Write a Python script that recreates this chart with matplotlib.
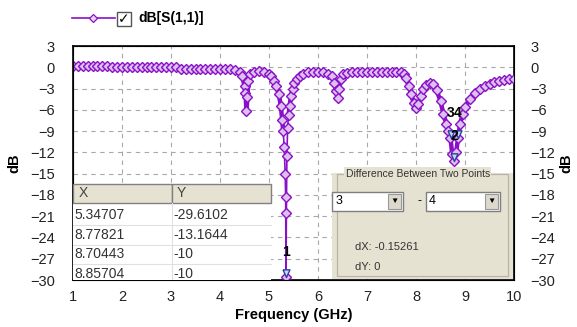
import numpy as np
import matplotlib.pyplot as plt
from matplotlib.patches import Rectangle
from matplotlib.lines import Line2D

plt.rcParams['font.family'] = ['Liberation Sans', 'DejaVu Sans']

# S11 trace
freq = [1.0, 1.1, 1.2, 1.3, 1.4, 1.5, 1.6, 1.7, 1.8, 1.9, 2.0, 2.1, 2.2, 2.3, 2.4,
        2.5, 2.6, 2.7, 2.8, 2.9, 3.0, 3.1, 3.2, 3.3, 3.4, 3.5, 3.6, 3.7, 3.8, 3.9,
        4.0, 4.1, 4.2, 4.3, 4.4, 4.45, 4.5, 4.52, 4.54, 4.56, 4.58, 4.62, 4.7, 4.8,
        4.9, 5.0, 5.05, 5.1, 5.15, 5.2, 5.24, 5.27, 5.29, 5.31, 5.33, 5.34, 5.347,
        5.355, 5.365, 5.38, 5.4, 5.42, 5.45, 5.48, 5.52, 5.57, 5.63, 5.7, 5.8, 5.9,
        6.0, 6.1, 6.2, 6.28, 6.33, 6.37, 6.4, 6.43, 6.47, 6.52, 6.6, 6.7, 6.8, 6.9,
        7.0, 7.1, 7.2, 7.3, 7.4, 7.5, 7.6, 7.7, 7.75, 7.8, 7.85, 7.9, 7.95, 8.0,
        8.05, 8.1, 8.15, 8.2, 8.28, 8.35, 8.42, 8.5, 8.56, 8.62, 8.66, 8.704, 8.74,
        8.778, 8.82, 8.857, 8.9, 8.95, 9.0, 9.1, 9.2, 9.3, 9.4, 9.5, 9.6, 9.7, 9.8,
        9.9, 10.0]
s11 = [0.2, 0.2, 0.2, 0.2, 0.2, 0.2, 0.2, 0.2, 0.1, 0.0, 0.0, 0.0, 0.0, 0.0, 0.0,
       0.0, 0.0, 0.0, 0.0, 0.0, 0.0, 0.0, -0.2, -0.2, -0.2, -0.2, -0.2, -0.2, -0.2, -0.2,
       -0.2, -0.2, -0.3, -0.4, -0.7, -1.2, -2.6, -3.6, -6.2, -4.2, -2.0, -1.0, -0.6, -0.5,
       -0.6, -0.9, -1.3, -1.9, -2.6, -3.8, -5.4, -7.5, -9.0, -11.3, -15.0, -18.3, -29.6,
       -20.5, -12.5, -8.5, -6.8, -5.4, -4.0, -3.0, -2.2, -1.6, -1.2, -0.9, -0.7, -0.6,
       -0.6, -0.7, -0.9, -1.3, -2.2, -3.3, -4.4, -3.0, -1.6, -1.0, -0.8, -0.7, -0.7, -0.7,
       -0.7, -0.7, -0.7, -0.7, -0.7, -0.7, -0.7, -0.7, -0.9, -1.5, -2.6, -3.8, -5.0, -5.7,
       -5.2, -4.0, -3.0, -2.5, -2.2, -2.4, -3.2, -4.8, -6.6, -8.0, -9.0, -10.0, -12.3,
       -13.16, -12.0, -10.0, -8.0, -6.6, -5.6, -4.5, -3.6, -3.0, -2.6, -2.3, -2.1, -2.0, -1.85,
       -1.7, -1.6]

# markers placed on the trace
mk_ids = ['1', '2', '3', '4']
mk_x = [5.34707, 8.77821, 8.70443, 8.85704]
mk_y = [-29.6102, -13.1644, -10, -10]

purple = '#8a10c8'

fig = plt.figure(figsize=(5.77, 3.27), dpi=100)
ax = fig.add_axes([73 / 577, 1 - 280 / 327, 441 / 577, 234 / 327])

# thick band where the samples are dense, thin line through the deep notch
ax.plot(freq[:53], s11[:53], color=purple, lw=3.2, zorder=3)
ax.plot(freq[60:], s11[60:], color=purple, lw=3.2, zorder=3)
ax.plot(freq[52:61], s11[52:61], color=purple, lw=1.2, zorder=3)
ax.plot(freq, s11, ls='none', marker='D', ms=5.5,
        mfc='#dcc0f0', mec=purple, mew=1.0, zorder=4)

tri = [(-1, 2.2), (1, 2.2), (0, 0), (-1, 2.2)]
for lbl, x, y in zip(mk_ids, mk_x, mk_y):
    ax.plot(x, y, marker=tri, ms=11, mfc='#c8d8f8', mec='#3040a0', mew=1, zorder=5)
    ax.annotate(lbl, (x, y), xytext=(0, 13), textcoords='offset points',
                ha='center', va='bottom', fontsize=10, fontweight='bold', zorder=6)

ax.set_xlim(1, 10)
ax.set_ylim(-30, 3)
ax.set_xticks(range(1, 11))
ax.set_yticks(range(-30, 4, 3))
ax.grid(True, ls=(0, (4, 4)), color='#a8a8a8', lw=0.8)
ax.tick_params(length=0, labelsize=10.5, colors='#222222')
ax.tick_params(axis='y', pad=13)
ax.tick_params(axis='x', pad=7)
for sp in ax.spines.values():
    sp.set_linewidth(1.2)
ax.set_xlabel('Frequency (GHz)', fontsize=10.5, fontweight='bold', labelpad=3)
ax.set_ylabel('dB', fontsize=10.5, fontweight='bold', labelpad=6)

ax2 = ax.twinx()
ax2.set_ylim(-30, 3)
ax2.set_yticks(range(-30, 4, 3))
ax2.tick_params(length=0, labelsize=10.5, colors='#222222', pad=12)
ax2.set_ylabel('dB', fontsize=10.5, fontweight='bold', labelpad=3)

# table overlay
tx0, tx1, tmid = 1.0, 5.04, 3.02
ax2.add_patch(Rectangle((tx0, -30), tx1 - tx0, 11, facecolor='white',
                        edgecolor='none', zorder=7))
ax2.add_patch(Rectangle((tx0, -19.1), tmid - tx0, 2.7, facecolor='#e6e2d2',
                        edgecolor='#808080', lw=1, zorder=8))
ax2.add_patch(Rectangle((tmid, -19.1), tx1 - tmid, 2.7, facecolor='#e6e2d2',
                        edgecolor='#808080', lw=1, zorder=8))
ax2.text(1.12, -17.75, 'X', fontsize=10, va='center', color='#444444', zorder=9)
ax2.text(3.12, -17.75, 'Y', fontsize=10, va='center', color='#444444', zorder=9)
rows_x = ['5.34707', '8.77821', '8.70443', '8.85704']
rows_y = ['-29.6102', '-13.1644', '-10', '-10']
for i, (a, b) in enumerate(zip(rows_x, rows_y)):
    yc = -20.8 - 2.8 * i
    ax2.text(1.03, yc, a, fontsize=10, va='center', color='#333333', zorder=9)
    ax2.text(3.04, yc, b, fontsize=10, va='center', color='#333333', zorder=9)
    ax2.plot([tx0, tx1], [yc - 1.4, yc - 1.4], color='#e0e0e0', lw=0.8, zorder=8)
ax2.plot([tmid, tmid], [-30, -19.1], color='#e0e0e0', lw=0.8, zorder=8)

# difference box
bx0, bx1 = 6.29, 9.98
ax2.add_patch(Rectangle((bx0, -29.85), bx1 - bx0, 15.0, facecolor='#e6e2d2',
                        edgecolor='none', zorder=7))
ax2.plot([bx0 + 0.1, bx0 + 0.1, bx1 - 0.1, bx1 - 0.1, bx0 + 0.1],
         [-15.0, -29.5, -29.5, -15.0, -15.0], color='#b8b4a8', lw=0.9, zorder=8)
ax2.text((bx0 + bx1) / 2 - 0.1, -15.0, 'Difference Between Two Points', fontsize=7.5,
         ha='center', va='center', color='#333333', zorder=9,
         bbox=dict(facecolor='#e6e2d2', edgecolor='none', pad=1))
for cx0, cx1, val in [(6.29, 7.73, '3'), (8.2, 9.71, '4')]:
    ax2.add_patch(Rectangle((cx0, -20.2), cx1 - cx0, 2.6, facecolor='white',
                            edgecolor='#7f7f7f', lw=1, zorder=9))
    ax2.add_patch(Rectangle((cx1 - 0.3, -19.95), 0.27, 2.1, facecolor='#dcd8cc',
                            edgecolor='#999999', lw=0.8, zorder=10))
    ax2.text(cx1 - 0.165, -18.9, '▼', fontsize=6, ha='center', va='center', zorder=11)
    ax2.text(cx0 + 0.06, -18.9, val, fontsize=9, va='center', zorder=11)
ax2.text(8.08, -18.9, '-', fontsize=9, ha='center', va='center', zorder=9)
ax2.text(6.76, -25.4, 'dX: -0.15261', fontsize=8, va='center', color='#333333', zorder=9)
ax2.text(6.76, -28.1, 'dY: 0', fontsize=8, va='center', color='#333333', zorder=9)

# legend entry at the top
fig.add_artist(Line2D([72 / 577, 115 / 577], [1 - 18 / 327] * 2, color=purple, lw=1.2))
fig.add_artist(Line2D([93 / 577], [1 - 18 / 327], marker='D', ms=4.5, mfc='#e8d4f4',
                      mec=purple, mew=0.9, color=purple))
fig.add_artist(Rectangle((117 / 577, 1 - 26 / 327), 14 / 577, 14 / 327,
                         facecolor='white', edgecolor='#555555', lw=1))
fig.text(124 / 577, 1 - 19 / 327, '✓', fontsize=10, fontweight='bold', ha='center',
         va='center', family=['DejaVu Sans'])
fig.text(138 / 577, 1 - 18 / 327, 'dB[S(1,1)]', fontsize=10, fontweight='bold',
         va='center')

fig.savefig('out.png', dpi=100)
